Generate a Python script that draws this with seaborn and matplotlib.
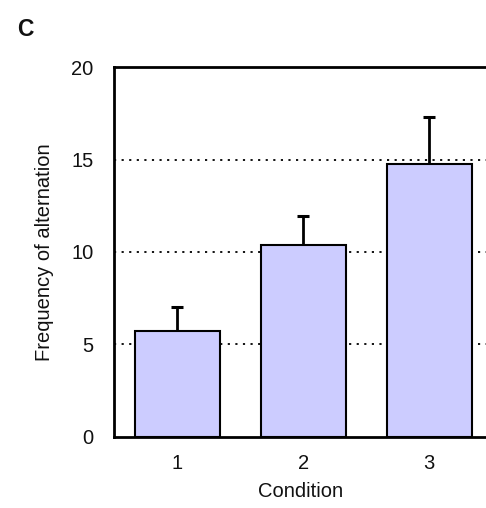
import numpy as np
import pandas as pd
import matplotlib
matplotlib.use('Agg')
import matplotlib.pyplot as plt
import seaborn as sns

conditions = ['1', '2', '3']
means      = [5.7, 10.35, 14.75]
err_up     = [1.35, 1.6, 2.55]

sns.set_style('white')
plt.rcParams['font.family'] = ['Liberation Sans', 'DejaVu Sans']
plt.rcParams['text.color'] = '#111111'
plt.rcParams['axes.labelcolor'] = '#111111'
plt.rcParams['xtick.color'] = '#111111'
plt.rcParams['ytick.color'] = '#111111'

fig = plt.figure(figsize=(4.86, 5.08), dpi=100)
ax = fig.add_axes([0.235, 0.14, 0.765, 0.728])

df = pd.DataFrame({'Condition': conditions, 'Frequency': means})

# dotted gridlines behind bars
for yv in [5, 10, 15]:
    ax.axhline(yv, color='black', lw=1.3, ls=(0, (1.2, 3.0)), zorder=0)

sns.barplot(data=df, x='Condition', y='Frequency', color='#CCCCFF',
            saturation=1, width=0.675, edgecolor='black', linewidth=1.5,
            errorbar=None, ax=ax, zorder=2)

# upper-only error bars
_, caps, _ = ax.errorbar(np.arange(len(means)), means,
                         yerr=[np.zeros(len(means)), err_up],
                         fmt='none', ecolor='black', elinewidth=2, capsize=4,
                         capthick=2.2, zorder=3)
caps[0].set_visible(False)

ax.set_xlim(-0.5, 2.45)
ax.set_ylim(0, 20)
ax.set_yticks([0, 5, 10, 15, 20])
ax.tick_params(axis='y', length=0, labelsize=14.5, pad=15)
ax.tick_params(axis='x', length=0, labelsize=14.5, pad=12)
ax.set_xlabel('Condition', fontsize=14.5, labelpad=7)
ax.set_ylabel('Frequency of alternation', fontsize=14.5, labelpad=12)

for side in ['left', 'top', 'bottom']:
    ax.spines[side].set_color('black')
    ax.spines[side].set_linewidth(2)
ax.spines['right'].set_visible(False)

fig.text(0.035, 0.93, 'C', fontsize=16.5, fontweight='bold')

fig.savefig('out.png', dpi=100)
